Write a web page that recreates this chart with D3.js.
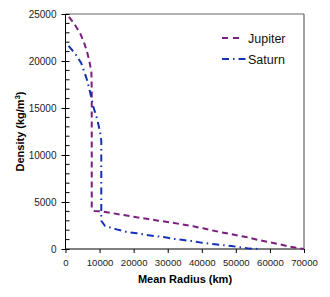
<!DOCTYPE html>
<html><head><meta charset="utf-8">
<script src="https://cdn.jsdelivr.net/npm/d3@7/dist/d3.min.js"></script>
<style>body{margin:0;background:#fff}svg{display:block;font-family:"Liberation Sans",Arial,sans-serif}</style>
</head><body>
<svg id="c" width="330" height="297"></svg>
<script>
const jupiterRadius  = [1000,2500,4300,5500,6300,7000,7600,7700,7700,8500,10600,14000,17500,20900,24300,27200,30700,34100,37500,40400,43900,47300,50200,53600,56500,60000,62900,65800,70000];
const jupiterDensity = [24700,24000,22950,21900,21000,20000,18800,17000,4300,4050,4000,3800,3580,3370,3190,3010,2840,2620,2410,2200,1910,1670,1460,1240,960,710,500,250,0];
const saturnRadius   = [900,2800,4600,6400,7200,8200,9400,10200,10500,10500,11600,15000,18000,20900,23800,29200,32100,34600,37500,40300,45800,48700,51200,54100,57000];
const saturnDensity  = [21600,20800,19800,17900,16700,15100,13700,12300,11500,3000,2450,2090,1810,1670,1490,1240,1060,960,820,650,430,320,180,40,0];
const xTicks = [0,10000,20000,30000,40000,50000,60000,70000];
const yTicks = [0,5000,10000,15000,20000,25000];
const seriesNames = ["Jupiter","Saturn"];

const svg = d3.select("#c");
const L=65.5,R=304,T=14,B=249;
const x = d3.scaleLinear().domain([0,70000]).range([L,R]);
const y = d3.scaleLinear().domain([0,25000]).range([B,T]);

// frame top/right
svg.append("line").attr("x1",L).attr("x2",R).attr("y1",T).attr("y2",T).attr("stroke","#666").attr("stroke-width",1.2);
svg.append("line").attr("x1",R).attr("x2",R).attr("y1",T).attr("y2",B).attr("stroke","#666").attr("stroke-width",1.2);

// y axis
const ya = svg.append("g").attr("transform",`translate(${L},0)`)
  .call(d3.axisLeft(y).tickValues(yTicks).tickSize(4).tickPadding(5).tickFormat(d3.format("d")));
ya.selectAll(".tick line").attr("x2",4).attr("x1",-4);
ya.select(".domain").attr("d",`M0,${T}V${B}`);
// minor ticks
const minor = d3.range(0,25001,1000).filter(v=>v%5000!==0);
ya.selectAll(".minor").data(minor).enter().append("line").attr("class","minor")
  .attr("x1",0).attr("x2",4).attr("y1",d=>y(d)).attr("y2",d=>y(d)).attr("stroke","#000");
ya.selectAll("text").attr("font-size","10px").attr("fill","#222").attr("font-family","Liberation Sans, Arial, sans-serif");

// x axis
const xa = svg.append("g").attr("transform",`translate(0,${B})`)
  .call(d3.axisBottom(x).tickValues(xTicks).tickSize(4).tickPadding(6).tickFormat(d3.format("d")));
xa.select(".domain").attr("d",`M${L},0H${R}`);
xa.selectAll("text").attr("font-size","9.6px").attr("fill","#222").attr("font-family","Liberation Sans, Arial, sans-serif");

// lines
const jup = jupiterRadius.map((r,i)=>[r,jupiterDensity[i]]);
const sat = saturnRadius.map((r,i)=>[r,saturnDensity[i]]);
const line = d3.line().x(d=>x(d[0])).y(d=>y(d[1]));
const cJ="#7a1f7d", cS="#1430b4";
svg.append("path").attr("d",line(jup)).attr("fill","none").attr("stroke",cJ).attr("stroke-width",2).attr("stroke-dasharray","6,4");
svg.append("path").attr("d",line(sat)).attr("fill","none").attr("stroke",cS).attr("stroke-width",2).attr("stroke-dasharray","7,4,1.5,4");

// legend
const lg = svg.append("g");
lg.append("line").attr("x1",222).attr("x2",243).attr("y1",38).attr("y2",38).attr("stroke",cJ).attr("stroke-width",2).attr("stroke-dasharray","6,5");
lg.append("line").attr("x1",222).attr("x2",247).attr("y1",59).attr("y2",59).attr("stroke",cS).attr("stroke-width",2).attr("stroke-dasharray","7,4,1.5,4");
lg.append("text").attr("x",248).attr("y",42.5).attr("font-size","12.5px").attr("fill","#111").text(seriesNames[0]);
lg.append("text").attr("x",248).attr("y",63.5).attr("font-size","12.5px").attr("fill","#111").text(seriesNames[1]);

// axis titles
svg.append("text").attr("x",185).attr("y",283).attr("text-anchor","middle").attr("font-size","11px").attr("font-weight","bold").text("Mean Radius (km)");
const yt = svg.append("text").attr("transform",`translate(24,${(T+B)/2}) rotate(-90)`).attr("text-anchor","middle").attr("font-size","11px").attr("font-weight","bold");
yt.append("tspan").text("Density (kg/m");
yt.append("tspan").attr("font-size","7.5px").attr("dy","-4").text("3");
yt.append("tspan").attr("dy","4").text(")");
</script>
</body></html>
